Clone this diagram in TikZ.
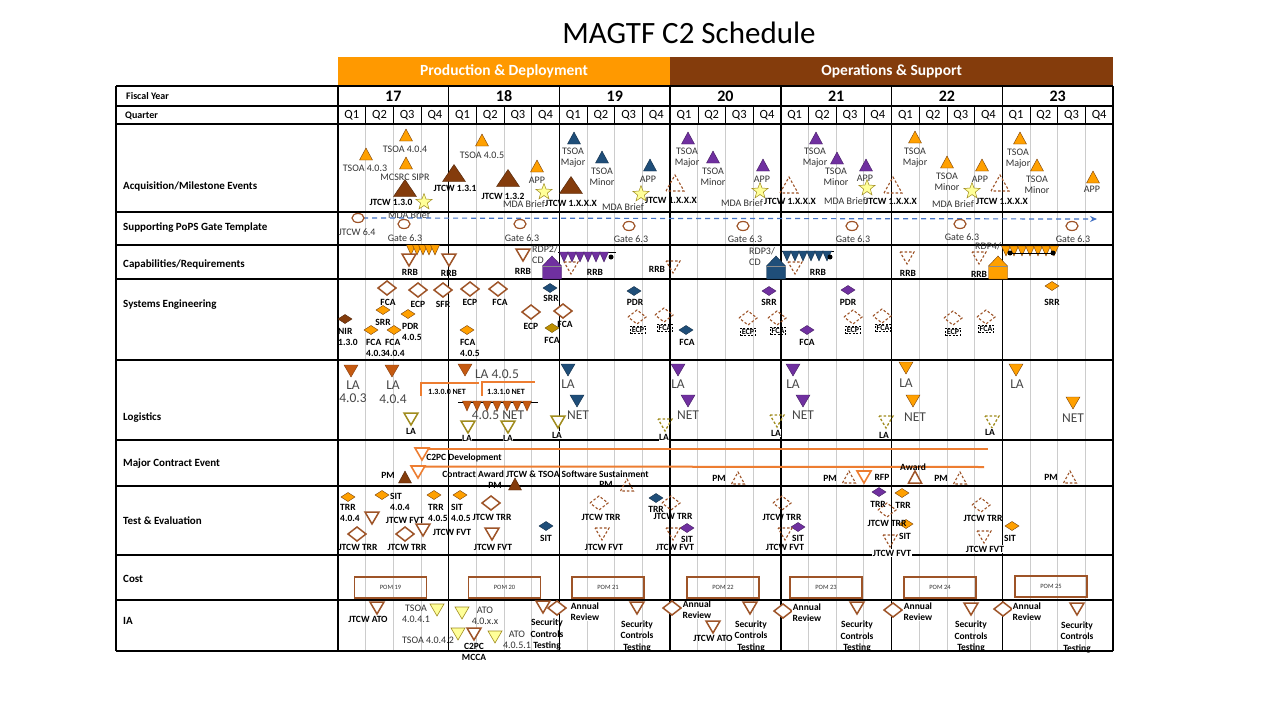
\documentclass[tikz,border=0pt]{standalone}
\usepackage{fontspec}
\setmainfont{Carlito}
\usetikzlibrary{shapes.geometric, arrows.meta}

\definecolor{pdOrange}{RGB}{255,153,0}
\definecolor{osBrown}{RGB}{132,60,12}
\definecolor{mkOrange}{RGB}{255,160,0}
\definecolor{mkEdge}{RGB}{120,64,10}
\definecolor{mkBlue}{RGB}{31,78,121}
\definecolor{mkPurple}{RGB}{112,48,160}
\definecolor{mkOpen}{RGB}{158,84,40}
\definecolor{mkRust}{RGB}{197,90,17}
\definecolor{mkGold}{RGB}{191,144,0}
\definecolor{mkOlive}{RGB}{160,140,30}
\definecolor{mkStar}{RGB}{255,255,153}
\definecolor{ctOrange}{RGB}{237,125,49}
\definecolor{gateBlue}{RGB}{68,114,196}

\begin{document}
\begin{tikzpicture}[x=1pt, y=-1pt, >=Stealth,
  grid/.style={line width=1.4pt, black},
  qline/.style={line width=0.8pt, black!20},
  qsep/.style={line width=0.6pt, black},
  phase/.style={font=\fontsize{15.5}{17}\selectfont\bfseries, text=white},
  yearlbl/.style={font=\fontsize{16}{18}\selectfont\bfseries},
  qlbl/.style={font=\fontsize{12.5}{14}\selectfont},
  rowlbl/.style={font=\fontsize{11}{13}\selectfont\bfseries, anchor=west, inner sep=0pt},
  lbl/.style={font=\fontsize{10}{11}\selectfont, text=black!80, inner sep=0pt, align=center},
  blbl/.style={font=\fontsize{9.5}{11}\selectfont\bfseries, inner sep=0pt, align=center},
  blblw/.style={blbl, align=left, anchor=west},
  wlbl/.style={blbl, fill=white, inner sep=0.6pt},
  seclbl/.style={blbl, font=\fontsize{9.5}{11.5}\selectfont\bfseries},
  netlbl/.style={font=\fontsize{8}{9}\selectfont\bfseries, inner sep=0pt},
  biglbl/.style={font=\fontsize{13.5}{13.5}\selectfont, text=black!72, inner sep=0pt, align=center},
  fo/.style={fill=mkOrange, draw=mkEdge, line width=0.4pt},
  fbr/.style={fill=osBrown, draw=osBrown!60!black, line width=0.4pt},
  fbl/.style={fill=mkBlue, draw=mkBlue!60!black, line width=0.4pt},
  fpu/.style={fill=mkPurple, draw=mkPurple!60!black, line width=0.4pt},
  fru/.style={fill=mkRust, draw=osBrown, line width=0.4pt},
  fgo/.style={fill=mkGold, draw=mkGold!60!black, line width=0.4pt},
  opn/.style={draw=mkOpen, fill=white, line width=1.5pt},
  dsh/.style={draw=mkOpen, line width=1.1pt, dash pattern=on 2.5pt off 2pt},
  olv/.style={draw=mkOlive, fill=white, line width=1.5pt},
  olvdsh/.style={draw=mkOlive, line width=1.3pt, dash pattern=on 2.5pt off 2pt},
  yel/.style={fill=mkStar, draw=mkOlive, line width=0.6pt},
  ctr/.style={draw=ctOrange, fill=white, line width=1.6pt},
  ctline/.style={draw=ctOrange, line width=2pt},
  bracket/.style={draw=ctOrange, line width=1.6pt},
  mdastar/.style={star, star points=5, star point ratio=2.4, minimum size=17pt,
    inner sep=0pt, fill=mkStar, draw=mkOlive, line width=0.5pt},
  dbox/.style={draw, line width=0.9pt, dash pattern=on 2pt off 1.5pt,
    font=\fontsize{8}{9}\selectfont\bfseries, inner sep=1pt},
  pombox/.style={draw=mkOpen, line width=1.6pt, minimum width=72pt, minimum height=21pt,
    font=\fontsize{6.5}{7}\selectfont, text=black!80},
  gatearrow/.style={-{Stealth[length=7pt, width=6pt]}, draw=gateBlue, line width=1.2pt,
    dash pattern=on 5pt off 4pt},
  uptri/.pic={\path[pic actions] (-6.5,6) -- (0,-6) -- (6.5,6) -- cycle;},
  bigup/.pic={\path[pic actions] (-11.5,8.5) -- (0,-8.5) -- (11.5,8.5) -- cycle;},
  dashup/.pic={\path[pic actions] (-9,8) -- (0,-8) -- (9,8) -- cycle;},
  dntri/.pic={\path[pic actions] (-7,-6) -- (7,-6) -- (0,6) -- cycle;},
  smdn/.pic={\path[pic actions] (-4.5,-5) -- (4.5,-5) -- (0,5) -- cycle;},
  dmd/.pic={\path[pic actions] (-7,0) -- (0,-4.5) -- (7,0) -- (0,4.5) -- cycle;},
  odmd/.pic={\path[pic actions] (-9,0) -- (0,-7) -- (9,0) -- (0,7) -- cycle;},
  ring/.pic={\path[pic actions] (0,0) circle [x radius=6pt, y radius=4.5pt];},
  house/.pic={\path[pic actions] (-9.5,11.5) -- (-9.5,-1.5) -- (0,-11.5) -- (9.5,-1.5)
    -- (9.5,11.5) -- cycle;
    \draw[black!45, line width=0.5pt, solid] (-9.5,-1.5) -- (9.5,-1.5);},
]
\useasboundingbox (0,0) rectangle (1280,720);
\fill[white] (0,0) rectangle (1280,720);

% --- Title and phases ---
\node[font=\fontsize{31}{34}\selectfont] (title) at (689,33) {MAGTF C2 Schedule};
\fill[pdOrange] (338,57) rectangle (670.4,85);
\fill[osBrown] (670.4,57) rectangle (1113,85);
\node[phase] (pd) at (504,71.5) {Production \& Deployment};
\node[phase] (os) at (891.7,71.5) {Operations \& Support};

% --- Grid ---
\foreach \i in {0,...,6}
  \foreach \q in {1,2,3} {
    \draw[qline] ({338+110.71*\i+27.68*\q},124) -- ({338+110.71*\i+27.68*\q},651);
    \draw[qsep] ({338+110.71*\i+27.68*\q},106) -- ({338+110.71*\i+27.68*\q},124);
  }
\foreach \yy in {86,106,124,212,245,279,360,440,486,555,600,651}
  \draw[grid] (116,\yy) -- (1113,\yy);
\foreach \xx in {116,338}
  \draw[grid] (\xx,86) -- (\xx,651);
\foreach \i in {1,...,7}
  \draw[grid] ({338+110.71*\i},86) -- ({338+110.71*\i},651);

\foreach \yr [count=\i from 0] in {17,...,23}
  \node[yearlbl] (fy\yr) at ({338+110.71*(\i+0.5)},96) {\yr};
\foreach \i in {0,...,6}
  \foreach \q in {1,...,4}
    \node[qlbl] (q\i-\q) at ({338+110.71*\i+27.68*(\q-0.5)},115.5) {Q\q};

% --- Row titles ---
\node[rowlbl, font=\fontsize{10}{12}\selectfont\bfseries] (rowfy) at (126,96) {Fiscal Year};
\node[rowlbl, font=\fontsize{10}{12}\selectfont\bfseries] (rowq) at (125,115.5) {Quarter};
\foreach \yy/\txt [count=\i] in {186/{Acquisition/Milestone Events},
    228/{Supporting PoPS Gate Template}, 264/{Capabilities/Requirements},
    305/Systems Engineering, 418/Logistics, 464/Major Contract Event,
    521/Test \& Evaluation, 579/Cost, 621/IA}
  \node[rowlbl] (row\i) at (123,\yy) {\txt};

% --- Acquisition / milestone events ---
\foreach \x/\y in {366/154, 406/135, 406/163, 482/140, 537/166, 915/137, 947/162,
    982/165, 1020/138, 1037/165, 1093/177}
  \pic[fo] at (\x,\y) {uptri};
\foreach \x/\y in {574/138, 602/157, 650/165}
  \pic[fbl] at (\x,\y) {uptri};
\foreach \x/\y in {688/138, 713/157, 763/165, 816/138, 837/158, 866/165}
  \pic[fpu] at (\x,\y) {uptri};
\foreach \x/\y in {405/188, 454/173, 508/178, 571/185}
  \pic[fbr] at (\x,\y) {bigup};
\foreach \x/\y in {675/183, 789/185, 893/185, 1000/183}
  \pic[dsh] at (\x,\y) {dashup};
\foreach \x/\y [count=\i] in {424/202, 544/192, 641/194, 760/191, 867/188, 972/191}
  \node[mdastar] (star\i) at (\x,\y) {};

\foreach \x/\y/\t [count=\i] in {365/168/TSOA 4.0.3, 405/149/TSOA 4.0.4,
    405/177/MCSRC SIPR, 482/155/TSOA 4.0.5, 537/180/APP, 409/215/MDA Brief,
    524/204/MDA Brief, 573/158/{TSOA\\Major}, 602/177/{TSOA\\Minor}, 648/179/APP,
    623/207/MDA Brief, 687/158/{TSOA\\Major}, 713/177/{TSOA\\Minor}, 762/179/APP,
    742/203/MDA Brief, 815/158/{TSOA\\Major}, 836/177/{TSOA\\Minor}, 865/178/APP,
    845/201/MDA Brief, 915/158/{TSOA\\Major}, 947/182/{TSOA\\Minor}, 980/179/APP,
    953/204/MDA Brief, 1018/159/{TSOA\\Major}, 1037/185/{TSOA\\Minor}, 1092/189/APP}
  \node[lbl] (aq\i) at (\x,\y) {\t};
\foreach \x/\y/\t [count=\i] in {391/202/JTCW 1.3.0, 455/188/JTCW 1.3.1,
    503/196/JTCW 1.3.2, 571/203/JTCW 1.X.X.X, 671/200/JTCW 1.X.X.X,
    790/201/JTCW 1.X.X.X, 891/201/JTCW 1.X.X.X, 1002/201/JTCW 1.X.X.X}
  \node[blbl] (jt\i) at (\x,\y) {\t};

% --- Supporting PoPS gate template ---
\coordinate (popsL) at (363,218);
\coordinate (popsR) at (1097,219);
\draw[gatearrow] (popsL) -- (popsR);
\foreach \x/\y in {358/218, 404/224, 520/224, 629/226, 743/226, 852/226, 960/224, 1072/226}
  \pic[draw=mkOpen, line width=1.2pt] at (\x,\y) {ring};
\foreach \x/\y/\t [count=\i] in {357/232/JTCW 6.4, 405/238/Gate 6.3, 522/238/Gate 6.3,
    631/239/Gate 6.3, 745/239/Gate 6.3, 853/239/Gate 6.3, 962/237/Gate 6.3,
    1073/239/Gate 6.3}
  \node[lbl] (gate\i) at (\x,\y) {\t};

% --- Capabilities / requirements ---
\node[lbl, anchor=west, align=left] (rdp2) at (532,254.5) {RDP2/\\CD};
\node[lbl, anchor=west, align=left] (rdp3) at (749,256.5) {RDP3/\\CD};
\node[lbl, anchor=west] (rdp4) at (975,246) {RDP4/};
\foreach \x in {411,417,...,435}
  \pic[fo] at (\x,250) {smdn};
\foreach \x/\y in {409/260, 449/260, 523/255}
  \pic[opn] at (\x,\y) {dntri};
\draw[line width=0.8pt] (558,252) -- (616,252);
\foreach \x in {564,572,...,604}
  \pic[fpu] at (\x,257) {smdn};
\fill (611,257) circle (2.5pt);
\draw[line width=0.8pt] (782,251) -- (834,251);
\foreach \x in {787,795,...,827}
  \pic[fbl] at (\x,256) {smdn};
\fill (830,257) circle (2.5pt);
\foreach \x in {1006,1014,...,1054}
  \pic[fo] at (\x,251) {smdn};
\draw[line width=0.8pt] (1010,253) -- (1053,253);
\fill (1010,253) circle (2.5pt) (1053,253) circle (2.5pt);
\foreach \x/\y in {571/268, 673/267, 795/268, 907/258, 979/258}
  \pic[dsh] at (\x,\y) {dntri};
\pic[fpu] at (552,267.5) {house};
\pic[fbl] at (776,267.5) {house};
\pic[fo] at (998,267.5) {house};
\foreach \x/\y [count=\i] in {410/272, 449/273, 523/271, 595/272, 657/269, 818/272,
    908/273, 979/274}
  \node[blbl] (rrb\i) at (\x,\y) {RRB};

% --- Systems engineering ---
\foreach \x/\y in {387/288, 418/290, 443/290, 470/289, 498/289, 531/312, 563/311}
  \pic[opn] at (\x,\y) {odmd};
\foreach \x/\y in {383/310, 371/330, 394/330, 408/314, 467/330, 1052/286}
  \pic[fo] at (\x,\y) {dmd};
\pic[fbr] at (345,319) {dmd};
\pic[fgo] at (552,328) {dmd};
\foreach \x/\y in {550/288, 634/291, 686/330}
  \pic[fbl] at (\x,\y) {dmd};
\foreach \x/\y in {769/291, 848/290, 807/330}
  \pic[fpu] at (\x,\y) {dmd};
\foreach \x/\y in {637/317, 664/315, 748/318, 777/318, 853/317, 882/316, 953/318, 986/317}
  \pic[dsh] at (\x,\y) {odmd};
\foreach \x/\y/\t [count=\i] in {638/330/ECP, 665/328/FCA, 748/332/ECP, 778/331/FCA,
    853/330/ECP, 883/328/FCA, 953/332/ECP, 986/329/FCA}
  \node[dbox] (chg\i) at (\x,\y) {\t};
\foreach \x/\y/\t [count=\i] in {388/302/FCA, 418/304/ECP, 443/304/SFR, 470/302/ECP,
    500/302/FCA, 551/298/SRR, 531/326/ECP, 552/340/FCA, 565/324/FCA, 383/322/SRR,
    635/302/PDR, 687/342/FCA, 769/302/SRR, 848/302/PDR, 807/342/FCA, 1052/302/SRR}
  \node[blbl] (se\i) at (\x,\y) {\t};
\foreach \x/\y/\t [count=\i] in {338/336.5/{NIR\\1.3.0}, 366/348/{FCA\\4.0.3},
    385/348/{FCA\\4.0.4}, 402/331.5/{PDR\\4.0.5}, 460/348/{FCA\\4.0.5}}
  \node[blblw] (sev\i) at (\x,\y) {\t};

% --- Logistics ---
\foreach \x/\y in {351/371, 392/371, 465/370}
  \pic[fru] at (\x,\y) {dntri};
\coordinate (netL) at (458,402);
\coordinate (netR) at (538,402);
\draw[line width=1pt] (netL) -- (netR);
\foreach \x in {467,477,...,527}
  \pic[fru] at (\x,406) {smdn};
\draw[bracket] (421,396) -- (421,383) -- (479,383);
\draw[bracket] (482,396) -- (482,382) -- (535,382);
\node[netlbl] (net130) at (447,392) {1.3.0.0 NET};
\node[netlbl] (net131) at (506,392) {1.3.1.0 NET};
\foreach \x/\y in {568/370, 577/401}
  \pic[fbl] at (\x,\y) {dntri};
\foreach \x/\y in {678/370, 688/401, 793/370, 803/401}
  \pic[fpu] at (\x,\y) {dntri};
\foreach \x/\y in {906/368, 913/401, 1016/370, 1073/403}
  \pic[fo] at (\x,\y) {dntri};
\foreach \x/\y in {411/419, 468/427, 508/427, 558/422}
  \pic[olv] at (\x,\y) {dntri};
\foreach \x/\y in {665/425, 777/421, 886/422, 992/422}
  \pic[olvdsh] at (\x,\y) {dntri};
\foreach \x/\y/\t [count=\i] in {353/391.5/{LA\\4.0.3}, 393/392/{LA\\4.0.4},
    497/374/LA 4.0.5, 498/415/4.0.5 NET, 568/384/LA, 578/415/NET, 678/384/LA,
    688/415/NET, 793/384/LA, 803/415/NET, 906/383/LA, 915/417/NET, 1017/384/LA,
    1073/418/NET}
  \node[biglbl] (lg\i) at (\x,\y) {\t};
\foreach \x/\y [count=\i] in {411/431, 467/438, 508/438, 557/435, 664/437, 776/433,
    884/435, 990/432}
  \node[wlbl] (la\i) at (\x,\y) {LA};

% --- Major contract event ---
\coordinate (devL) at (417,449);
\coordinate (devR) at (988,449);
\coordinate (supL) at (413,466.5);
\coordinate (supR) at (984,467);
\draw[ctline] (devL) -- (devR);
\draw[ctline] (supL) -- (supR);
\foreach \x/\y in {422/454, 418/472, 864/477}
  \pic[ctr] at (\x,\y) {dntri};
\foreach \x/\y in {405/477, 515/484}
  \pic[fbr] at (\x,\y) {uptri};
\foreach \x/\y in {627/485, 738/478, 849/477, 960/478, 1070/477}
  \pic[dsh] at (\x,\y) {uptri};
\pic[opn] at (915,477) {uptri};
\node[blbl] (c2pc) at (464,458) {C2PC Development};
\node[blbl] (award) at (545.5,474) {Contract Award JTCW \& TSOA Software Sustainment};
\node[blbl] (rfp) at (882,477) {RFP};
\node[blbl] (awd) at (913,467) {Award};
\foreach \x/\y [count=\i] in {388/475, 495/485, 606/484, 719/478, 830/478, 941/478, 1051/477}
  \node[blbl] (pm\i) at (\x,\y) {PM};

% --- Test & evaluation ---
\foreach \x/\y in {348/497, 382/495, 434/495, 460/495, 902/493, 906/524, 1012/526}
  \pic[fo] at (\x,\y) {dmd};
\foreach \x/\y in {546/526, 656/498}
  \pic[fbl] at (\x,\y) {dmd};
\foreach \x/\y in {687/528, 798/527, 879/492}
  \pic[fpu] at (\x,\y) {dmd};
\foreach \x/\y in {357/534, 405/534, 491/503}
  \pic[opn] at (\x,\y) {odmd};
\foreach \x/\y in {372/518, 423/530, 492/534}
  \pic[opn] at (\x,\y) {dntri};
\foreach \x/\y in {599/503, 671/503, 782/503, 887/510, 981/505}
  \pic[dsh] at (\x,\y) {odmd};
\foreach \x/\y in {602/534, 673/534, 785/534, 890/541, 984/537}
  \pic[dsh] at (\x,\y) {dntri};
\foreach \x/\y/\t [count=\i] in {340/512.5/{TRR\\4.0.4}, 390/502/{SIT\\4.0.4},
    428/512.5/{TRR\\4.0.5}, 451/512.5/{SIT\\4.0.5}}
  \node[blblw] (tev\i) at (\x,\y) {\t};
\foreach \x/\y/\t [count=\i] in {405/520/JTCW FVT, 358/547/JTCW TRR, 407/547/JTCW TRR,
    452/532/JTCW FVT, 492/517/JTCW TRR, 493/547/JTCW FVT, 546/538/SIT,
    601/517/JTCW TRR, 604/547/JTCW FVT, 656/509/TRR, 673/516/JTCW TRR, 687/539/SIT,
    675/547/JTCW FVT, 782/517/JTCW TRR, 798/538/SIT, 785/547/JTCW FVT, 878/504/TRR,
    903/505/TRR, 887/523/JTCW TRR, 905/536/SIT, 983/518/JTCW TRR, 1010/538/SIT}
  \node[blbl] (te\i) at (\x,\y) {\t};
\node[wlbl] (fvt1) at (892,553) {JTCW FVT};
\node[wlbl] (fvt2) at (985,549) {JTCW FVT};

% --- Cost ---
\foreach \x/\y/\n in {390.5/587.5/19, 504.5/587.5/20, 608/587.5/21, 723/587.5/22,
    826/587.5/23, 940/587.5/24, 1051/586.5/25}
  \node[pombox] (pom\n) at (\x,\y) {POM \n};

% --- IA ---
\foreach \x/\y in {377/608, 474/634, 543/607, 637/608, 713/627, 750/608, 857/608,
    971/609, 1077/609}
  \pic[opn] at (\x,\y) {dntri};
\foreach \x/\y in {437/610, 458/634, 462/613, 495/637}
  \pic[yel] at (\x,\y) {dntri};
\foreach \x/\y in {557/608, 672/608, 783/611, 893/610, 1003/609}
  \pic[opn] at (\x,\y) {odmd};
\foreach \x/\y/\t [count=\i] in {416/613.5/{TSOA\\4.0.4.1}, 428/640/TSOA 4.0.4.2,
    485/616/{ATO\\4.0.x.x}, 517/640/{ATO\\4.0.5.1}}
  \node[lbl] (ia\i) at (\x,\y) {\t};
\node[blbl] (ato1) at (368,619) {JTCW ATO};
\node[blbl] (ato2) at (713,638) {JTCW ATO};
\node[blbl] (mcca) at (474,651.5) {C2PC\\MCCA};
\foreach \x/\y [count=\i] in {547/634.5, 637/636, 751/636, 857/636.5, 971/636.5, 1077/637}
  \node[seclbl] (sct\i) at (\x,\y) {Security\\Controls\\Testing};
\foreach \x/\y [count=\i] in {585/611.5, 697/610, 807/612.5, 918/611.5, 1027/611.5}
  \node[wlbl] (rev\i) at (\x,\y) {Annual\\Review};

\end{tikzpicture}
\end{document}
